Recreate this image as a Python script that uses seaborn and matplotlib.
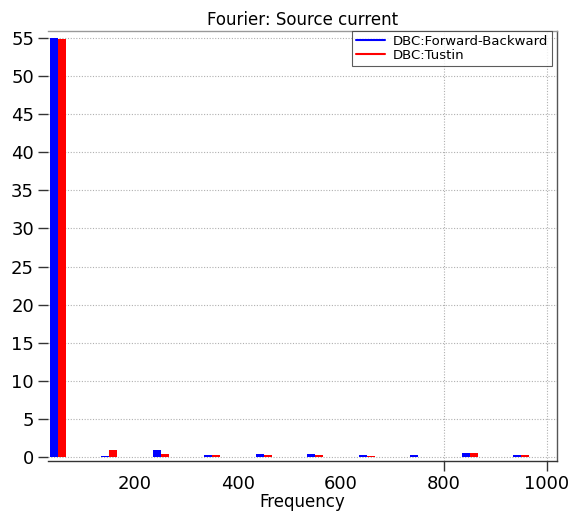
import pandas as pd
import matplotlib
matplotlib.use("Agg")
import matplotlib.pyplot as plt
import seaborn as sns
from matplotlib.lines import Line2D

# --- dados ---
freqs = [50, 100, 150, 200, 250, 300, 350, 400, 450, 500,
         550, 600, 650, 700, 750, 800, 850, 900, 950, 1000]
fb_amp = [55.0, 0.1, 0.2, 0.1, 0.95, 0.08, 0.35, 0.1, 0.45, 0.08,
          0.45, 0.08, 0.25, 0.1, 0.35, 0.08, 0.55, 0.1, 0.35, 0.1]
tu_amp = [54.8, 0.1, 0.95, 0.1, 0.5, 0.08, 0.35, 0.1, 0.3, 0.08,
          0.3, 0.1, 0.15, 0.1, 0.1, 0.08, 0.55, 0.1, 0.35, 0.05]
series = ["DBC:Forward-Backward", "DBC:Tustin"]
cores = ["#0000ff", "#ff0000"]
xticks = [200, 400, 600, 800, 1000]
yticks = list(range(0, 56, 5))

df = pd.DataFrame({
    "Frequency": freqs * 2,
    "Amp": fb_amp + tu_amp,
    "Serie": [series[0]] * len(freqs) + [series[1]] * len(freqs),
})

sns.set_theme(style="white")
plt.rcParams["font.family"] = ["DejaVu Sans"]
plt.rcParams["text.color"] = "black"

fig = plt.figure(figsize=(5.78, 5.13), dpi=100)
ax = fig.add_axes([0.083, 0.101, 0.881, 0.839])

sns.barplot(data=df, x="Frequency", y="Amp", hue="Serie", native_scale=True,
            palette=cores, width=0.62, saturation=1, linewidth=0,
            errorbar=None, legend=False, ax=ax)

ax.set_xlim(31, 1020)
ax.set_ylim(-0.5, 55.9)
ax.set_xticks(xticks)
ax.set_yticks(yticks)
ax.tick_params(axis="both", labelsize=13, length=7, width=1, color="#333333",
               labelcolor="black", left=True, bottom=True, pad=3)
ax.set_xlabel("Frequency", fontsize=12, labelpad=0, color="black")
ax.set_ylabel("")
ax.set_title("Fourier: Source current", fontsize=12, pad=4, color="black")

# grade pontilhada
ax.grid(True, linestyle=(0, (1, 1.5)), color="#b0b0b0", linewidth=0.8)
ax.set_axisbelow(True)
# só aparecem as linhas verticais em 800 e 1000
for i, t in enumerate(ax.xaxis.get_major_ticks()):
    if xticks[i] < 800:
        t.gridline.set_visible(False)
        t.tick1line.set_visible(False)

ax.spines["left"].set_visible(False)
ax.spines["top"].set_color("#999999")
ax.spines["bottom"].set_color("#333333")
ax.spines["right"].set_color("#555555")
for s in ax.spines.values():
    s.set_linewidth(1)

handles = [Line2D([0], [0], color=c, lw=1.5) for c in cores]
leg = ax.legend(handles, series, loc="upper right", bbox_to_anchor=(0.99, 1.0),
                borderaxespad=0, fontsize=9.5, frameon=True, fancybox=False,
                handlelength=2.2, handletextpad=0.6, borderpad=0.3,
                labelspacing=0.1)
leg.get_frame().set_edgecolor("#333333")
leg.get_frame().set_linewidth(0.8)

fig.savefig("out.png", dpi=100)
